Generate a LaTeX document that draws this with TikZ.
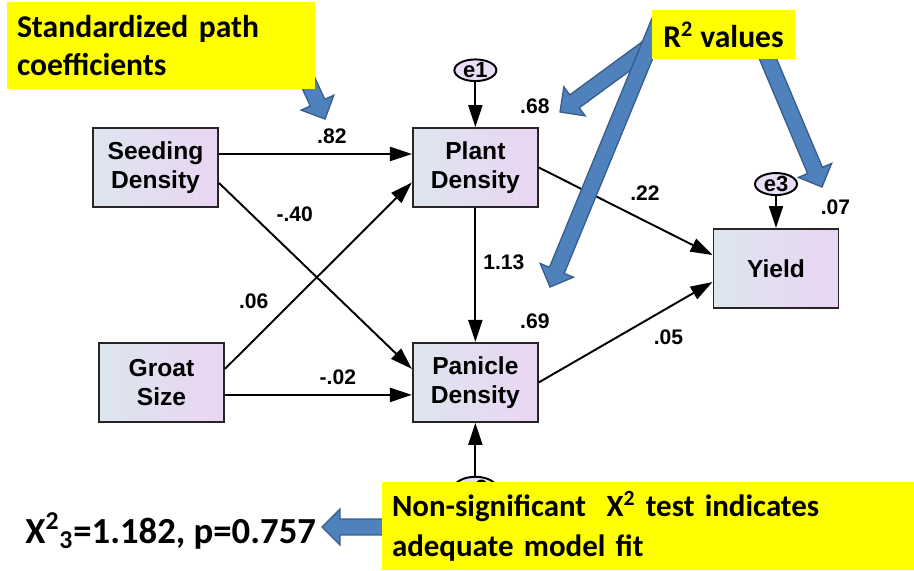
\documentclass[tikz,border=0pt]{standalone}
\usepackage{fontspec}
\setmainfont{Liberation Sans}
\newfontfamily\calloutfont{Carlito}
\usetikzlibrary{positioning, arrows.meta, shapes.geometric, calc}

\definecolor{boxleft}{RGB}{221,229,238}
\definecolor{boxright}{RGB}{234,213,243}
\definecolor{errfill}{RGB}{232,222,245}
\definecolor{calloutblue}{RGB}{79,129,189}
\definecolor{calloutedge}{RGB}{56,93,138}
\definecolor{calloutyellow}{RGB}{255,255,0}

\begin{document}
\begin{tikzpicture}[x=0.02cm, y=-0.02cm,
  var/.style={draw=black!85, line width=1.1pt, left color=boxleft, right color=boxright,
              minimum width=2.5cm, minimum height=1.58cm, align=center,
              font=\bfseries\fontsize{14}{16.5}\selectfont},
  err/.style={ellipse, draw=black, line width=1.1pt, fill=errfill, minimum width=.84cm,
              minimum height=.4cm, inner sep=0pt, font=\bfseries\fontsize{12.5}{13}\selectfont},
  arr/.style={-{Triangle[length=12.5pt, width=8pt]}, line width=1.1pt},
  lbl/.style={font=\bfseries\fontsize{12}{14}\selectfont, inner sep=1pt},
  blockarr/.style={fill=calloutblue, draw=calloutedge, line width=.75pt,
    to path={
      ($(\tikztostart)!.16cm!90:(\tikztotarget)$)
      -- ($(\tikztotarget)!.36cm!(\tikztostart)!.16cm!90:(\tikztotarget)$)
      -- ($(\tikztotarget)!.36cm!(\tikztostart)!.36cm!90:(\tikztotarget)$)
      -- (\tikztotarget)
      -- ($(\tikztotarget)!.36cm!(\tikztostart)!.36cm!-90:(\tikztotarget)$)
      -- ($(\tikztotarget)!.36cm!(\tikztostart)!.16cm!-90:(\tikztotarget)$)
      -- ($(\tikztostart)!.16cm!-90:(\tikztotarget)$) -- cycle}},
  callout/.style={fill=calloutyellow, inner xsep=.2cm, inner ysep=0pt, align=left,
                  font=\calloutfont\bfseries\fontsize{18}{21.6}\selectfont},
  chi/.style={inner sep=0pt, font=\calloutfont\bfseries\fontsize{20.9}{25}\selectfont},
]

\useasboundingbox (0,0) rectangle (914,571);

% === Path model ===
\node[var] (seed) at (155.5,167.5) {Seeding\\Density};
\node[var, right=3.86cm of seed] (plant) {Plant\\Density};
\node[var, below=2.68cm of plant] (panicle) {Panicle\\Density};
\node[var, left=3.74cm of panicle] (groat) {Groat\\Size};
\node[var] (yield) at (776,268.5) {Yield};

% error terms
\node[err, above=.9cm of plant] (e1) {e1};
\node[err, above=.64cm of yield] (e3) {e3};
\node[err, below=1.06cm of panicle] (e2) {e2};

% === Paths with coefficients ===
\draw[arr] ([yshift=.27cm]seed.east) -- node[lbl, pos=.585, yshift=.36cm] {.82} ([yshift=.27cm]plant.west);
\draw[arr] ([yshift=-.31cm]seed.east) -- node[lbl, pos=.284, xshift=.42cm, yshift=.44cm] {-.40} ([yshift=.27cm]panicle.west);
\draw[arr] ([yshift=.27cm]groat.east) -- node[lbl, pos=.258, xshift=-.39cm, yshift=.39cm] {.06} ([yshift=-.3cm]plant.west);
\draw[arr] ([yshift=-.25cm]groat.east) -- node[lbl, pos=.604, yshift=.36cm] {-.02} ([yshift=-.25cm]panicle.west);
\draw[arr] (plant) -- node[lbl, pos=.403, xshift=.57cm] {1.13} (panicle);
\draw[arr] (plant.east) -- node[lbl, pos=.548, xshift=.22cm, yshift=.45cm] {.22} ([yshift=.27cm]yield.west);
\draw[arr] (panicle.east) -- node[lbl, pos=.674, xshift=.25cm, yshift=-.46cm] {.05} ([yshift=-.27cm]yield.west);
\draw[arr] (e1) -- (plant);
\draw[arr] (e3) -- (yield);
\draw[arr] (e2) -- (panicle);

% R^2 values
\node[lbl] (r2plant) at ($(plant.north east)+(-4,-21)$) {.68};
\node[lbl] (r2panicle) at ($(panicle.north east)+(-4,-21)$) {.69};
\node[lbl] (r2yield) at ($(yield.north east)+(-4,-21)$) {.07};

% === Callout arrows ===
\coordinate (stdtail) at (298,60);
\coordinate (stdtip) at (325,119);
\coordinate (rplanttail) at (665,35);
\coordinate (rplanttip) at (560,112);
\coordinate (rpanicletail) at (662,15);
\coordinate (rpanicletip) at (550,287);
\coordinate (ryieldtail) at (760,40);
\coordinate (ryieldtip) at (822,187);
\coordinate (fittail) at (400,527);
\coordinate (fittip) at (322,527);

\draw[blockarr] (stdtail) to (stdtip);
\draw[blockarr] (rplanttail) to (rplanttip);
\draw[blockarr] (rpanicletail) to (rpanicletip);
\draw[blockarr] (ryieldtail) to (ryieldtip);
\draw[blockarr] (fittail) to (fittip);

% === Callouts ===
\node[callout, text width=5.76cm, minimum height=1.74cm] (std) at (161,45.5) {Standardized path\\coefficients};
\node[callout, align=center, inner xsep=0pt, minimum width=2.86cm, minimum height=.98cm] (r2) at (723.5,34.5) {R\textsuperscript{2} values};
\node[callout, text width=10.24cm, minimum height=1.76cm,
      font=\calloutfont\bfseries\fontsize{17.6}{22.7}\selectfont] (fit) at (648,526)
      {Non-significant\ \ X\textsuperscript{2} test indicates\\adequate model fit};
\node[chi, anchor=base west] (chitext) at (25,543) {X\textsuperscript{2}\textsubscript{3}=1.182, p=0.757};

\end{tikzpicture}
\end{document}
